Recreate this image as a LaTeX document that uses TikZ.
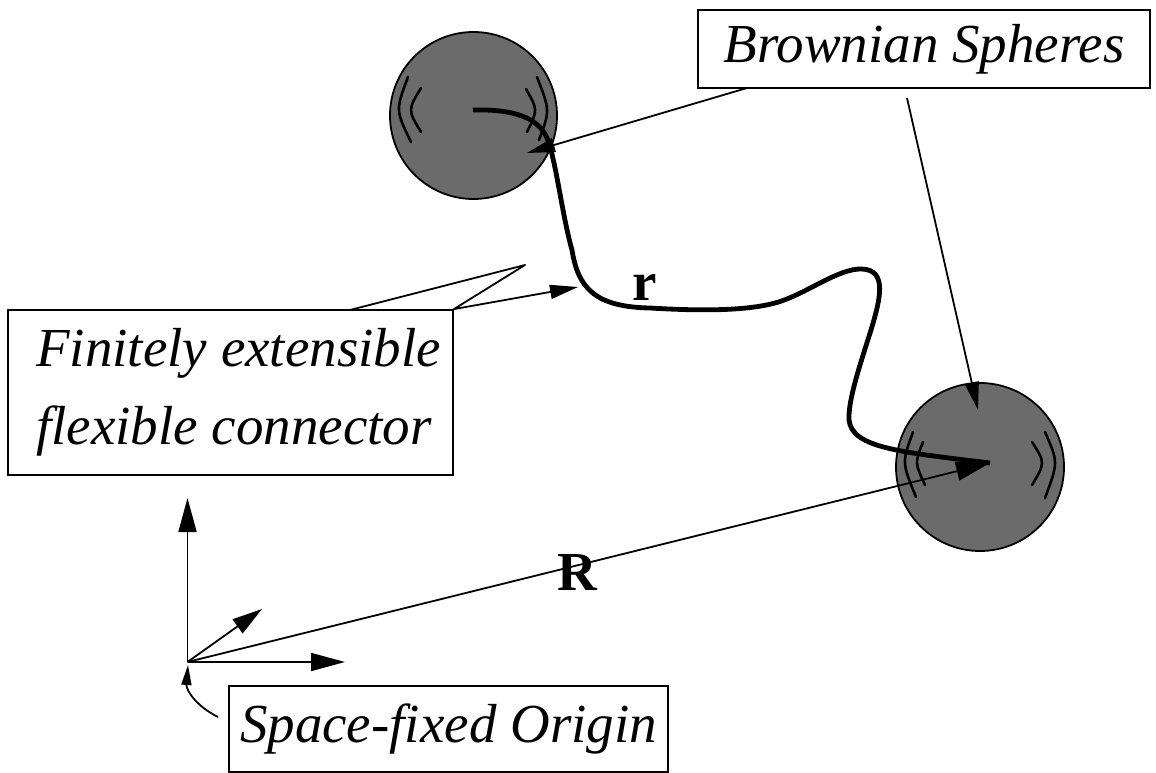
\documentclass[tikz,border=0pt]{standalone}
\usepackage{fontspec}
\setmainfont{Liberation Serif}
\usetikzlibrary{arrows.meta}
\definecolor{sph}{gray}{0.42}
\tikzset{
  box/.style={draw, line width=1.8pt, inner sep=0pt, font=\fontsize{55}{78}\selectfont\itshape},
  sphere/.style={circle, draw, line width=1.8pt, fill=sph, inner sep=0pt},
  arcmark/.style={line width=2.6pt, line cap=round},
  thinline/.style={line width=1.8pt},
  thickline/.style={line width=4.8pt},
  bigtip/.style={-{Triangle[length=34pt,width=19pt]}},
  axtip/.style={-{Triangle[length=34pt,width=18pt]}},
  ptip/.style={-{Triangle[length=28pt,width=14pt]}},
  smalltip/.style={-{Triangle[length=20pt,width=10pt]}},
  vlabel/.style={font=\fontsize{55}{60}\selectfont\bfseries\upshape, inner sep=0pt}
}
\begin{document}
\begin{tikzpicture}[x=1pt,y=-1pt]
\useasboundingbox (0,0) rectangle (1156,773);

% spheres
\node[sphere, minimum size=167pt] (s1) at (473.5,115.5) {};
\node[sphere, minimum size=168pt] (s2) at (980,467) {};

% arc marks on sphere 1
\draw[arcmark] (408,77) .. controls (395.5,110.2) .. (411,142);
\draw[arcmark] (421,88) .. controls (407.7,110) .. (421,132);
\draw[arcmark] (537,77) .. controls (550,110.5) .. (539,140);
\draw[arcmark] (526,89) .. controls (537.9,109.9) .. (527,132);
% arc marks on sphere 2
\draw[arcmark] (913,432) .. controls (901.8,462.5) .. (916,497);
\draw[arcmark] (923,442) .. controls (914.7,462.8) .. (925,485);
\draw[arcmark] (1045,432) .. controls (1058.3,462.3) .. (1045,498);
\draw[arcmark] (1032,442) .. controls (1045.3,462.8) .. (1032,485);

% boxes
\node[box, minimum width=452pt, minimum height=78pt] (bs) at (924,49) {Brownian Spheres};
\node[box, minimum width=445pt, minimum height=165pt, align=left] (fec) at (230.5,392.5) {\hspace*{16pt}Finitely extensible\\\hspace*{16pt}flexible connector};
\node[box, minimum width=439pt, minimum height=86pt] (sfo) at (448.5,729) {Space-fixed Origin};

% key coordinates
\coordinate (O) at (187.5,662);
\coordinate (tip) at (990,463);
\coordinate (r0) at (473,110);
\coordinate (ex) at (345,662);
\coordinate (ey) at (262,609);
\coordinate (ez) at (187.5,498);
\coordinate (p1s) at (747,88);
\coordinate (p1e) at (527,153);
\coordinate (p2s) at (907,98);
\coordinate (p2e) at (978,410);
\coordinate (f1) at (350,310);
\coordinate (fcusp) at (525,265);
\coordinate (fe) at (578,287);
\coordinate (o1) at (218,717);
\coordinate (o2) at (188,665);

% vector r (flexible connector)
\draw[thickline] (r0) .. controls (515,109) and (538,118) .. (547,138)
  .. controls (556,160) and (562,215) .. (572,250)
  .. controls (578,288) and (595,307) .. (650,308)
  .. controls (700,311) and (745,311) .. (775,303)
  .. controls (805,295) and (838,268) .. (862,269)
  .. controls (888,270) and (880,300) .. (871,330)
  .. controls (860,365) and (848,400) .. (849,420)
  .. controls (852,448) and (900,452) .. (tip);

% vector R
\draw[thinline, bigtip] (O) -- (tip);

% axes
\draw[thinline, axtip] (O) -- (ez);
\draw[thinline, axtip] (O) -- (ex);
\draw[thinline, -{Triangle[length=30pt,width=17pt]}] (O) -- (ey);

% labels of vectors
\node[vlabel] (lr) at (645,287) {r};
\node[vlabel] (lR) at (577,572) {R};

% pointers
\draw[thinline, ptip] (p1s) -- (p1e);
\draw[thinline, ptip] (p2s) -- (p2e);
\draw[thinline, ptip, line join=round] (f1) -- (fcusp) -- (fec.north east) -- (fe);
\draw[thinline, smalltip] (o1) .. controls (196,706) and (186,690) .. (o2);
\end{tikzpicture}
\end{document}
